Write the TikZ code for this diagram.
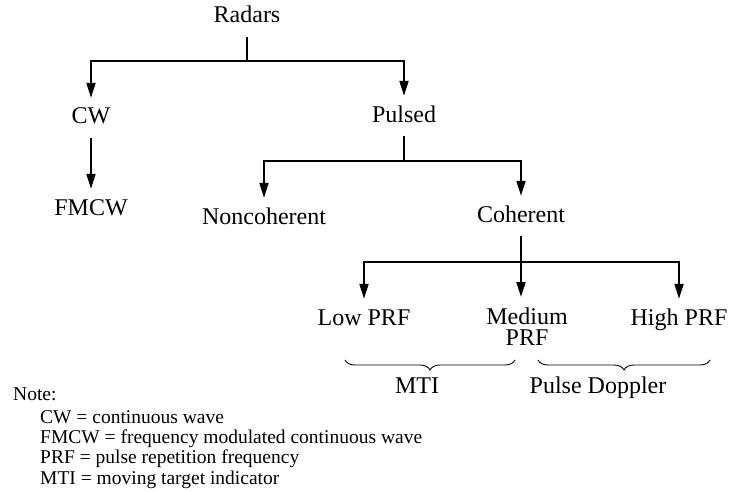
\documentclass[tikz,border=0pt]{standalone}
\usepackage{fontspec}
\setmainfont{Liberation Serif}
\usetikzlibrary{arrows.meta,decorations.pathreplacing}

\begin{document}
\begin{tikzpicture}[x=1pt, y=-1pt,
  lbl/.style={font=\fontsize{24}{19}\selectfont, inner sep=1pt, text height=17pt, text depth=5pt, minimum height=40pt},
  link/.style={line width=2pt},
  arrow/.style={line width=2pt, -{Triangle[length=15pt, width=9pt]}},
  gbrace/.style={decorate, decoration={brace, mirror, amplitude=10pt}, line width=0.9pt},
  note/.style={font=\fontsize{19.5}{20.3}\selectfont, inner sep=0pt, align=left}]
  \useasboundingbox (0,0) rectangle (730,492);

  % Root
  \node[lbl] (radars) at (247,17) {Radars};

  % First level
  \node[lbl] (cw) at (91,118) {CW};
  \node[lbl] (pulsed) at (404,116) {Pulsed};
  \node[lbl] (fmcw) at (91,209) {FMCW};

  % Pulsed radars
  \node[lbl] (noncoh) at (264,218) {Noncoherent};
  \node[lbl] (coh) at (521,216) {Coherent};

  % Coherent radars
  \node[lbl] (lowprf) at (364,319) {Low PRF};
  \node[lbl, align=center, text height={}, text depth={}, minimum height=0pt, inner ysep=11pt, anchor=north] (medprf) at (527,297) {Medium\\[2pt]PRF};
  \node[lbl] (highprf) at (679,319) {High PRF};

  % Groups
  \coordinate (mtil) at (345,360);
  \coordinate (mtir) at (515,360);
  \coordinate (pdl) at (538,360);
  \coordinate (pdr) at (710,360);
  \node[lbl] (mti) at (417,387) {MTI};
  \node[lbl] (pd) at (598,387) {Pulse Doppler};

  % Note
  \node[note, anchor=west] (note) at (13,394) {Note:};
  \node[note, anchor=north west] (defs) at (40,410) {
    CW = continuous wave\\
    FMCW = frequency modulated continuous wave\\
    PRF = pulse repetition frequency\\
    MTI = moving target indicator
  };

  % Arrows
  \draw[link] (radars.south) -- ++(0,24) coordinate (rj);
  \draw[arrow] (rj) -| (cw);
  \draw[arrow] (rj) -| (pulsed);
  \draw[arrow] (cw) -- (fmcw);

  \draw[link] (pulsed.south) -- ++(0,25) coordinate (pj);
  \draw[arrow] (pj) -| (noncoh);
  \draw[arrow] (pj) -| (coh);

  \draw[link] (coh.south) -- ++(0,26) coordinate (cj);
  \draw[arrow] (cj) -| (lowprf);
  \draw[arrow] (cj) -- (cj |- medprf.north);
  \draw[arrow] (cj) -| (highprf);

  % Braces
  \draw[gbrace] (mtil) -- (mtir);
  \draw[gbrace] (pdl) -- (pdr);
\end{tikzpicture}
\end{document}
